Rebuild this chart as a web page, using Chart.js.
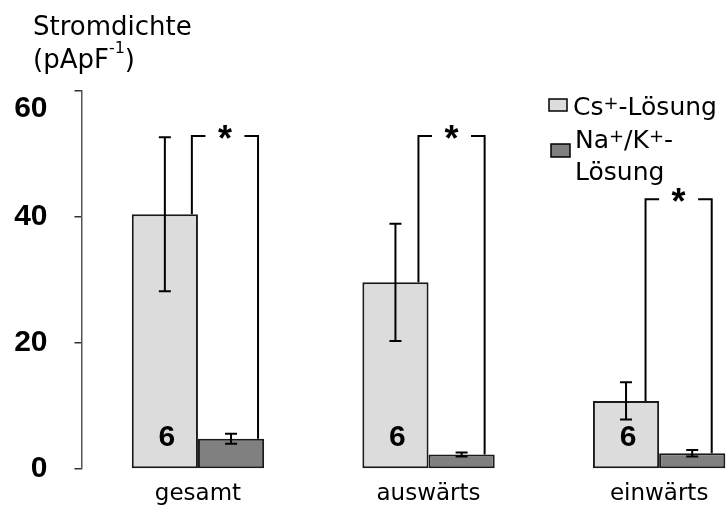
<!DOCTYPE html>
<html>
<head>
<meta charset="utf-8">
<script src="https://cdn.jsdelivr.net/npm/chart.js@4/dist/chart.umd.min.js"></script>
<style>
  html, body { margin: 0; padding: 0; background: #fff; }
  canvas { display: block; }
</style>
</head>
<body>
<canvas id="chart" width="726" height="508"></canvas>
<script>
const categories = ["gesamt", "auswärts", "einwärts"];
const csMeans = [40.4, 29.6, 10.8];
const csErrors = [12.2, 9.3, 2.95];
const naKMeans = [4.8, 2.3, 2.5];
const naKErrors = [0.8, 0.3, 0.5];
const cellCounts = ["6", "6", "6"];
const bracketTops = [52.8, 52.8, 42.8];

const LIGHT = "#dcdcdc";
const DARK = "#808080";
const TEXT_FONT = "'DejaVu Sans', Verdana, sans-serif";
const NUM_FONT = "'Liberation Sans', Arial, sans-serif";

// draws a line of text with optional superscript parts
function richText(ctx, parts, x, baseline, size) {
  let cx = x;
  ctx.textAlign = "left";
  ctx.textBaseline = "alphabetic";
  parts.forEach((p) => {
    const s = p.sup ? p.sup : size;
    ctx.font = s + "px " + TEXT_FONT;
    ctx.fillText(p.t, cx, baseline - (p.dy || 0));
    cx += ctx.measureText(p.t).width;
  });
}

const annotations = {
  id: "annotations",
  afterDatasetsDraw(chart) {
    const ctx = chart.ctx;
    const y = chart.scales.y;
    const light = chart.getDatasetMeta(0).data;
    const dark = chart.getDatasetMeta(1).data;
    ctx.save();
    ctx.strokeStyle = "#000";
    ctx.fillStyle = "#000";
    ctx.lineWidth = 2;

    // error bars
    [[light, csMeans, csErrors], [dark, naKMeans, naKErrors]].forEach(([bars, means, errs]) => {
      bars.forEach((bar, i) => {
        const top = y.getPixelForValue(means[i] + errs[i]);
        const bot = y.getPixelForValue(means[i] - errs[i]);
        ctx.beginPath();
        ctx.moveTo(bar.x, top);
        ctx.lineTo(bar.x, bot);
        ctx.moveTo(bar.x - 6, top);
        ctx.lineTo(bar.x + 6, top);
        ctx.moveTo(bar.x - 6, bot);
        ctx.lineTo(bar.x + 6, bot);
        ctx.stroke();
      });
    });

    // significance brackets
    const legOffset = [27, 23, 19.5];
    bracketTops.forEach((v, i) => {
      const yt = y.getPixelForValue(v);
      const x1 = light[i].x + legOffset[i];
      const x2 = dark[i].x + legOffset[i];
      const mid = (x1 + x2) / 2;
      ctx.beginPath();
      ctx.moveTo(x1, light[i].y);
      ctx.lineTo(x1, yt);
      ctx.lineTo(mid - 19.5, yt);
      ctx.moveTo(mid + 19.5, yt);
      ctx.lineTo(x2, yt);
      ctx.lineTo(x2, dark[i].y);
      ctx.stroke();
      ctx.font = "bold 36px " + NUM_FONT;
      ctx.textAlign = "center";
      ctx.textBaseline = "alphabetic";
      ctx.fillText("*", mid, yt + 15);
    });

    // n inside the light bars
    ctx.font = "bold 30px " + NUM_FONT;
    ctx.textAlign = "center";
    ctx.textBaseline = "alphabetic";
    light.forEach((bar, i) => {
      ctx.fillText(cellCounts[i], bar.x + 2, y.bottom - 23);
    });

    // axis title
    richText(ctx, [{ t: "Stromdichte" }], 33, 35, 26);
    richText(ctx, [{ t: "(pApF" }, { t: "-1", sup: 16, dy: 15 }, { t: ")" }], 33, 68, 26);

    // legend
    ctx.lineWidth = 1.5;
    ctx.fillStyle = LIGHT;
    ctx.fillRect(549, 99, 18, 12);
    ctx.strokeRect(549, 99, 18, 12);
    ctx.fillStyle = DARK;
    ctx.fillRect(551, 144, 19, 13);
    ctx.strokeRect(551, 144, 19, 13);
    ctx.fillStyle = "#000";
    richText(ctx, [{ t: "Cs" }, { t: "+", sup: 18, dy: 6 }, { t: "-Lösung" }], 573, 115, 25);
    richText(ctx, [{ t: "Na" }, { t: "+", sup: 18, dy: 6 }, { t: "/K" }, { t: "+", sup: 18, dy: 6 }, { t: "-" }], 575, 148, 25);
    richText(ctx, [{ t: "Lösung" }], 575, 180, 25);
    ctx.restore();
  }
};

new Chart(document.getElementById("chart"), {
  type: "bar",
  data: {
    datasets: [
      {
        label: "Cs⁺-Lösung",
        data: csMeans.map((v, i) => ({ x: i, y: v })),
        backgroundColor: LIGHT,
        borderColor: "#1a1a1a",
        borderWidth: 2,
        borderSkipped: false
      },
      {
        label: "Na⁺/K⁺-Lösung",
        data: naKMeans.map((v, i) => ({ x: i, y: v })),
        backgroundColor: DARK,
        borderColor: "#1a1a1a",
        borderWidth: 2,
        borderSkipped: false
      }
    ]
  },
  options: {
    responsive: false,
    animation: false,
    devicePixelRatio: 1,
    categoryPercentage: 0.574,
    barPercentage: 1,
    layout: { padding: { top: 90.7, right: 0, left: 0, bottom: 0 } },
    plugins: {
      legend: { display: false },
      tooltip: { enabled: false }
    },
    scales: {
      x: {
        type: "linear",
        offset: false,
        min: -0.505,
        max: 2.29,
        afterBuildTicks: (s) => { s.ticks = categories.map((_, i) => ({ value: i })); },
        afterFit: (s) => { s.height = 39; },
        grid: { display: false, drawTicks: false, tickLength: 0 },
        border: { display: false },
        ticks: {
          padding: 11,
          color: "#000",
          font: { family: TEXT_FONT, size: 23 },
          callback: (v) => categories[v] ?? ""
        }
      },
      y: {
        min: 0,
        max: 60,
        afterFit: (s) => {
          s.width = 81.5;
          s.paddingTop = 0;
          s.paddingBottom = 0;
        },
        grid: { drawOnChartArea: false, drawTicks: true, tickLength: 7, color: "#333", lineWidth: 1.5 },
        border: { display: true, color: "#555", width: 1.5 },
        ticks: {
          stepSize: 10,
          padding: 27,
          color: "#000",
          font: { family: NUM_FONT, size: 30, weight: "bold" },
          callback: (v) => (v === 60 ? ["", "60"] : (v % 20 === 0 ? String(v) : ""))
        }
      }
    }
  },
  plugins: [annotations]
});
</script>
</body>
</html>
